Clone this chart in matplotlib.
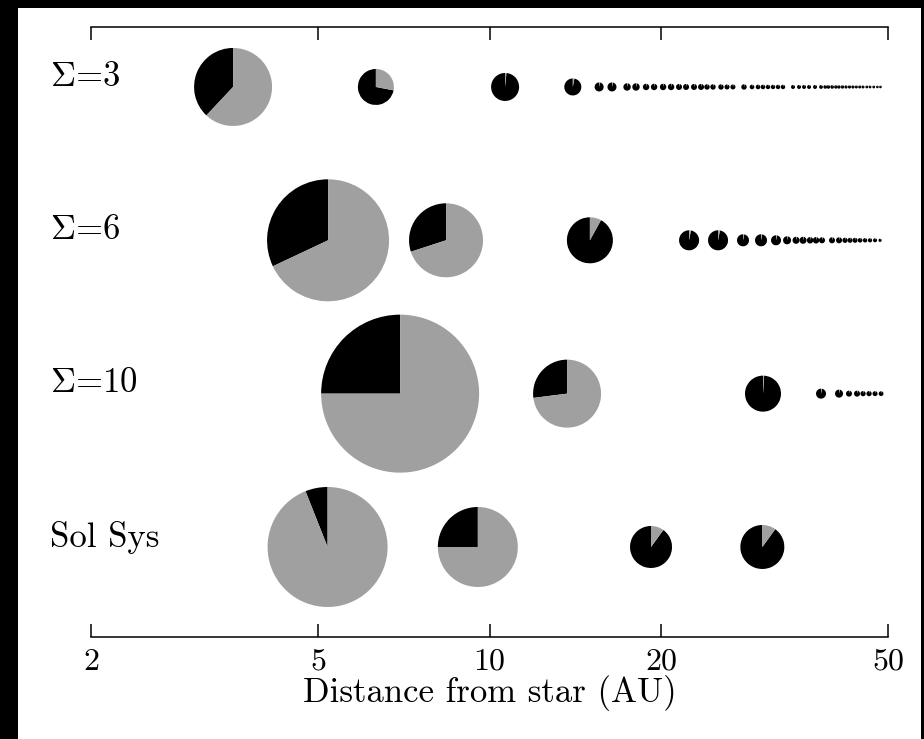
import matplotlib
matplotlib.use("Agg")
import matplotlib.pyplot as plt
import matplotlib.transforms as mtransforms
from matplotlib.patches import Wedge, Rectangle

# rows, top to bottom
row_labels = [r"$\Sigma$=3", r"$\Sigma$=6", r"$\Sigma$=10", "Sol Sys"]

# distance (AU), pie size (radius, px), fraction of solids (black)
sig3_dist = [3.55, 6.32, 10.65, 14.0, 15.57, 16.40, 17.43, 18.07, 18.82, 19.44,
             20.16, 20.82, 21.50, 22.12, 22.84, 23.50, 24.07, 24.66, 25.47, 26.10,
             26.73, 27.95, 28.87, 29.58, 30.18, 30.80, 31.43, 32.07, 32.72, 34.07,
             34.91, 35.62, 36.35, 37.24, 38.15, 38.8, 39.3, 39.9, 40.5, 41.0,
             41.6, 42.2, 42.8, 43.4, 44.0, 44.6, 45.2, 45.9, 46.5, 47.2,
             47.9, 48.5]
sig3_size = [39, 18, 14, 8.5, 4.5, 4.5, 3.7, 3.7, 3.2, 3.2,
             3.2, 3.2, 3.0, 3.0, 3.0, 3.0, 2.7, 2.7, 2.7, 2.5,
             2.5, 2.7, 2.3, 2.3, 2.3, 2.2, 2.2, 2.2, 2.2, 2.0,
             2.0, 2.0, 2.0, 2.0, 1.9, 1.8, 1.8, 1.8, 1.7, 1.7,
             1.7, 1.6, 1.6, 1.6, 1.5, 1.5, 1.5, 1.4, 1.4, 1.4,
             1.3, 1.3]
sig3_frac = [0.38, 0.72, 0.985] + [0.97] * 49

sig6_dist = [5.21, 8.39, 15.0, 22.39, 25.17, 27.84, 29.94, 31.81, 33.26, 34.49,
             35.48, 36.50, 37.39, 38.30, 39.88, 41.03, 42.03, 42.89, 43.77, 44.67,
             45.58, 46.50, 47.45, 48.42]
sig6_size = [61, 37, 23, 10, 10, 6, 6, 5, 4, 3.5,
             3.5, 3.2, 3.2, 3.0, 3.0, 3.0, 2.6, 2.5, 2.5, 2.3,
             2.2, 2.1, 2.0, 1.6]
sig6_frac = [0.32, 0.30, 0.92] + [0.97] * 21

sig10_dist = [6.97, 13.68, 30.18, 38.15, 41.03, 42.71, 44.12, 45.21, 46.32, 47.45, 48.62]
sig10_size = [79, 34, 18, 5, 4, 3, 3, 2.6, 2.6, 2.5, 2.4]
sig10_frac = [0.25, 0.27, 0.99] + [0.97] * 8

sol_dist = [5.2, 9.54, 19.2, 30.1]
sol_size = [60, 40, 21, 22]
sol_frac = [0.06, 0.25, 0.90, 0.90]

rows = [(sig3_dist, sig3_size, sig3_frac),
        (sig6_dist, sig6_size, sig6_frac),
        (sig10_dist, sig10_size, sig10_frac),
        (sol_dist, sol_size, sol_frac)]

tick_vals = [2, 5, 10, 20, 50]
tick_labels = ["2", "5", "10", "20", "50"]

plt.rcParams["font.family"] = ["cmr10", "DejaVu Serif"]
plt.rcParams["mathtext.fontset"] = "cm"
plt.rcParams["axes.unicode_minus"] = False

W, H, DPI = 924, 739, 100
fig = plt.figure(figsize=(W / DPI, H / DPI), dpi=DPI, facecolor="black")
# white "paper" inside the black frame
fig.patches.append(Rectangle((18 / W, 0), 903 / W, 731 / H, transform=fig.transFigure,
                             facecolor="white", edgecolor="none", zorder=-10))

ax = fig.add_axes([91 / W, 1 - 637 / H, 797 / W, 610 / H])
ax.set_facecolor("none")
ax.set_xscale("log")
ax.set_xlim(2, 50)
ax.set_ylim(3.587, -0.391)

black, gray = "black", "#a0a0a0"
for i, (dist, size, frac) in enumerate(rows):
    for d, r, f in zip(dist, size, frac):
        # pie of fixed pixel size, centred at (d, row) in data coords
        trans = fig.dpi_scale_trans + mtransforms.ScaledTranslation(d, i, ax.transData)
        rr = r / DPI
        a = 90 + 360 * f
        ax.add_patch(Wedge((0, 0), rr, 90, a, facecolor=black, edgecolor="none",
                           transform=trans, clip_on=False))
        ax.add_patch(Wedge((0, 0), rr, a, 450, facecolor=gray, edgecolor="none",
                           transform=trans, clip_on=False))

lab_trans = mtransforms.blended_transform_factory(fig.transFigure, ax.transData)
for i, lab in enumerate(row_labels):
    ax.text(50 / W, i - 0.065, lab, transform=lab_trans, fontsize=25,
            ha="left", va="center")

for s in ["left", "right"]:
    ax.spines[s].set_visible(False)
for s in ["top", "bottom"]:
    ax.spines[s].set_linewidth(1.1)
ax.set_yticks([])
ax.set_xticks(tick_vals)
ax.set_xticklabels(tick_labels)
ax.minorticks_off()
ax.tick_params(axis="x", which="major", direction="in", top=True, length=9.5,
               width=1.1, labelsize=23, pad=8)
ax.set_xlabel("Distance from star (AU)", fontsize=25)
ax.xaxis.set_label_coords(0.5, -0.062)

fig.savefig("out.png", dpi=DPI, facecolor=fig.get_facecolor())
